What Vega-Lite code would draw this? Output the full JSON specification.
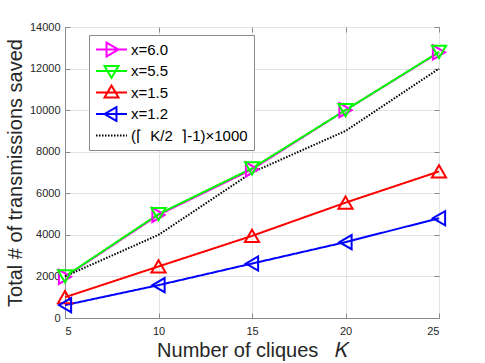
{
  "$schema": "https://vega.github.io/schema/vega-lite/v6.json",
  "width": 374,
  "height": 291,
  "autosize": "none",
  "padding": {"left": 65, "top": 27, "right": 46, "bottom": 45},
  "background": "white",
  "config": {
    "font": "Liberation Sans",
    "view": {"stroke": "#8a8a8a", "strokeWidth": 1},
    "axis": {
      "domainColor": "#8a8a8a",
      "tickColor": "#8a8a8a",
      "gridColor": "#e3e3e3",
      "labelColor": "#262626",
      "titleColor": "#262626",
      "labelFontSize": 11,
      "titleFontSize": 20,
      "titleFontWeight": "normal",
      "labelFont": "Liberation Sans",
      "titleFont": "Liberation Sans"
    }
  },
  "data": {
    "values": [
      {"K": 5, "v": 1980, "s": "x=6.0"},
      {"K": 10, "v": 4960, "s": "x=6.0"},
      {"K": 15, "v": 7150, "s": "x=6.0"},
      {"K": 20, "v": 10000, "s": "x=6.0"},
      {"K": 25, "v": 12780, "s": "x=6.0"},
      {"K": 5, "v": 2000, "s": "x=5.5"},
      {"K": 10, "v": 5000, "s": "x=5.5"},
      {"K": 15, "v": 7200, "s": "x=5.5"},
      {"K": 20, "v": 10000, "s": "x=5.5"},
      {"K": 25, "v": 12800, "s": "x=5.5"},
      {"K": 5, "v": 1000, "s": "x=1.5"},
      {"K": 10, "v": 2480, "s": "x=1.5"},
      {"K": 15, "v": 3950, "s": "x=1.5"},
      {"K": 20, "v": 5550, "s": "x=1.5"},
      {"K": 25, "v": 7050, "s": "x=1.5"},
      {"K": 5, "v": 620, "s": "x=1.2"},
      {"K": 10, "v": 1580, "s": "x=1.2"},
      {"K": 15, "v": 2620, "s": "x=1.2"},
      {"K": 20, "v": 3650, "s": "x=1.2"},
      {"K": 25, "v": 4800, "s": "x=1.2"},
      {"K": 5, "v": 2000, "s": "(⌈\u00a0\u00a0K/2\u00a0\u00a0⌉-1)×1000"},
      {"K": 10, "v": 4000, "s": "(⌈\u00a0\u00a0K/2\u00a0\u00a0⌉-1)×1000"},
      {"K": 15, "v": 7000, "s": "(⌈\u00a0\u00a0K/2\u00a0\u00a0⌉-1)×1000"},
      {"K": 20, "v": 9000, "s": "(⌈\u00a0\u00a0K/2\u00a0\u00a0⌉-1)×1000"},
      {"K": 25, "v": 12000, "s": "(⌈\u00a0\u00a0K/2\u00a0\u00a0⌉-1)×1000"}
    ]
  },
  "layer": [
    {
      "mark": {"type": "line", "strokeWidth": 2, "clip": false},
      "encoding": {
        "x": {
          "field": "K", "type": "quantitative",
          "scale": {"domain": [5, 25], "nice": false},
          "axis": {"values": [5, 10, 15, 20, 25], "title": "Number of cliques\u00a0\u00a0\u00a0𝐾", "tickSize": -5, "labelPadding": 12, "titlePadding": 4, "grid": true}
        },
        "y": {
          "field": "v", "type": "quantitative",
          "scale": {"domain": [0, 14000], "nice": false},
          "axis": {"values": [0, 2000, 4000, 6000, 8000, 10000, 12000, 14000], "title": "Total # of transmissions saved", "tickSize": -5, "labelPadding": 10, "titlePadding": 4, "grid": true, "format": "d"}
        },
        "color": {
          "field": "s", "type": "nominal",
          "scale": {
            "domain": ["x=6.0", "x=5.5", "x=1.5", "x=1.2", "(⌈\u00a0\u00a0K/2\u00a0\u00a0⌉-1)×1000"],
            "range": ["#ff00ff", "#00ff00", "#ff0000", "#0000ff", "#000000"]
          },
          "legend": {
            "title": null,
            "orient": "none",
            "legendX": 24,
            "legendY": 8,
            "strokeColor": "#8a8a8a",
            "fillColor": "white",
            "padding": 6,
            "rowPadding": 4.5,
            "clipHeight": 17,
            "labelFontSize": 15,
            "labelColor": "#000000",
            "labelFont": "Liberation Sans",
            "labelOffset": 3,
            "symbolSize": 961,
            "symbolStrokeWidth": 2,
            "symbolFillColor": "transparent",
            "encode": {
              "symbols": {
                "update": {
                  "shape": {"signal": "datum.value == 'x=6.0' ? 'M-1,0L1,0M-0.32,-0.45L0.45,0L-0.32,0.45Z' : datum.value == 'x=5.5' ? 'M-1,0L1,0M-0.45,-0.32L0.45,-0.32L0,0.45Z' : datum.value == 'x=1.5' ? 'M-1,0L1,0M-0.45,0.32L0.45,0.32L0,-0.45Z' : datum.value == 'x=1.2' ? 'M-1,0L1,0M0.32,-0.45L-0.45,0L0.32,0.45Z' : 'M-1,0L1,0'"},
                  "strokeDash": {"signal": "indexof(datum.value, 'x=') == 0 ? [1,0] : [1.5,1.5]"},
                  "fill": {"value": "transparent"}
                }
              }
            }
          }
        },
        "strokeDash": {
          "field": "s", "type": "nominal",
          "scale": {
            "domain": ["x=6.0", "x=5.5", "x=1.5", "x=1.2", "(⌈\u00a0\u00a0K/2\u00a0\u00a0⌉-1)×1000"],
            "range": [[1, 0], [1, 0], [1, 0], [1, 0], [1.5, 1.5]]
          },
          "legend": null
        },
        "order": {"field": "K"}
      }
    },
    {
      "transform": [{"filter": "indexof(datum.s, 'x=') == 0"}],
      "mark": {"type": "point", "filled": false, "size": 200, "strokeWidth": 2, "opacity": 1, "clip": false},
      "encoding": {
        "x": {"field": "K", "type": "quantitative", "axis": {"orient": "top", "values": [5, 10, 15, 20, 25], "labels": false, "title": null, "grid": false, "domain": false, "tickSize": -5}},
        "y": {"field": "v", "type": "quantitative", "axis": {"orient": "right", "values": [0, 2000, 4000, 6000, 8000, 10000, 12000, 14000], "labels": false, "title": null, "grid": false, "domain": false, "tickSize": -5}},
        "color": {"field": "s", "type": "nominal", "legend": null},
        "shape": {
          "field": "s", "type": "nominal",
          "scale": {"domain": ["x=6.0", "x=5.5", "x=1.5", "x=1.2"], "range": ["triangle-right", "triangle-down", "triangle-up", "triangle-left"]},
          "legend": null
        }
      }
    }
  ],
  "resolve": {"axis": {"x": "independent", "y": "independent"}}
}
